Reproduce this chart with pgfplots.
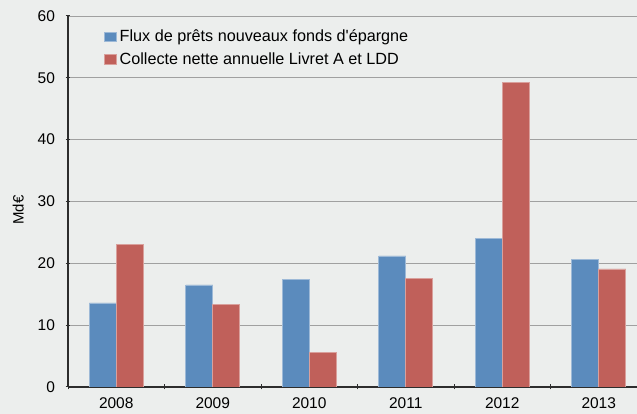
\documentclass[border=0pt]{standalone}
\usepackage{pgfplots}
\pgfplotsset{compat=1.18}
\usepackage{fontspec}
\setmainfont{Liberation Sans}[Ligatures=TeXOff]

\definecolor{bg}{RGB}{236,238,237}
\definecolor{barblue}{RGB}{91,139,189}
\definecolor{barred}{RGB}{192,96,90}
\definecolor{gridgray}{RGB}{160,160,160}
\definecolor{axisdark}{RGB}{45,45,45}

\begin{document}
\begin{tikzpicture}
  % picture is 637 x 414, axis box starts at (68,27) from bottom left
  \useasboundingbox (-68pt,-27pt) rectangle (569pt,387pt);
  \clip (-68pt,-27pt) rectangle (569pt,387pt);
  \fill[bg] (-68pt,-27pt) rectangle (569pt,387pt);
  \begin{axis}[
      scale only axis,
      width=579pt, height=371pt,
      ybar=0pt, bar width=27pt,
      xmin=-0.5, xmax=5.5,
      ymin=0, ymax=60,
      ytick={0,10,...,60},
      xtick={0,...,5},
      xticklabels={2008,2009,2010,2011,2012,2013},
      minor xtick={-0.5,0.5,...,5.5},
      major x tick style={draw=none},
      minor x tick style={axisdark, line width=1pt},
      y tick style={axisdark, line width=1pt},
      tick align=outside,
      major tick length=5pt,
      minor tick length=5pt,
      axis x line=bottom,
      axis y line=left,
      x axis line style={-, axisdark, line width=1.6pt},
      y axis line style={-, axisdark, line width=1.1pt},
      ymajorgrids=true,
      grid style={gridgray, line width=0.9pt},
      ticklabel style={font=\fontsize{15.5}{17}\selectfont},
      /pgf/number format/assume math mode=true,
      xticklabel style={yshift=-5pt},
      yticklabel style={xshift=-7pt},
      ylabel={Md€},
      ylabel style={at={(axis description cs:-0.086,0.477)}, anchor=center,
        font=\fontsize{15}{17}\selectfont},
      legend style={at={(axis description cs:0.062,0.968)}, anchor=north west,
        draw=none, fill=none, font=\fontsize{16.2}{18}\selectfont,
        row sep=5pt, inner sep=0pt, nodes={inner xsep=3pt}},
      legend cell align=left,
      legend image code/.code={\fill[#1] (0pt,-4.7pt) rectangle (12pt,4.7pt);},
    ]
    \addplot[fill=barblue, draw=barblue!60!white, line width=0.6pt] coordinates {
      (0,13.6) (1,16.5) (2,17.4) (3,21.2) (4,24.0) (5,20.7)
    };
    \addplot[fill=barred, draw=barred!60!white, line width=0.6pt] coordinates {
      (0,23.1) (1,13.3) (2,5.6) (3,17.5) (4,49.3) (5,19.1)
    };
    \legend{Flux de prêts nouveaux fonds d'épargne, Collecte nette annuelle Livret A et LDD}
  \end{axis}
\end{tikzpicture}
\end{document}
